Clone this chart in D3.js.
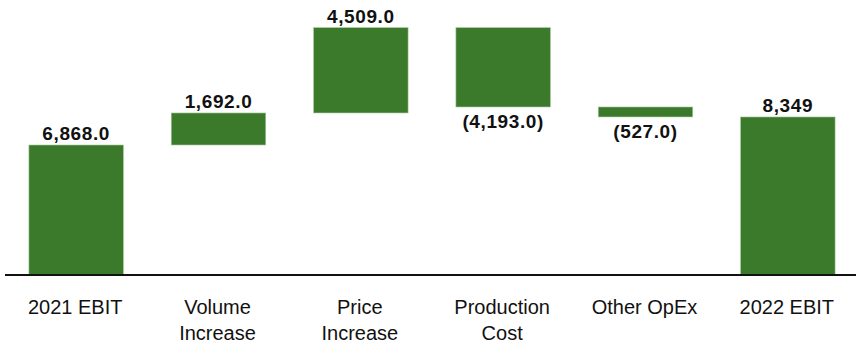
<!DOCTYPE html>
<html>
<head>
<meta charset="utf-8">
<script src="https://cdn.jsdelivr.net/npm/d3@7"></script>
<style>
  body { margin: 0; background: #fff; }
  svg { display: block; font-family: "Liberation Sans", Arial, sans-serif; }
</style>
</head>
<body>
<div id="chart"></div>
<script>
// EBIT bridge 2021 -> 2022
var categories = [["2021 EBIT"], ["Volume", "Increase"], ["Price", "Increase"], ["Production", "Cost"], ["Other OpEx"], ["2022 EBIT"]];
var values = [6868, 1692, 4509, -4193, -527, 8349];
var isTotal = [true, false, false, false, false, true];
var valueLabels = ["6,868.0", "1,692.0", "4,509.0", "(4,193.0)", "(527.0)", "8,349"];

var width = 856,
    height = 342,
    baseY = 275;

var GREEN = "#3c7a2b";

// running totals for the floating bars
var steps = [];
var run = 0;
values.forEach(function(v, i) {
  if (isTotal[i]) {
    steps.push({ i: i, lo: 0, hi: v, v: v });
    run = v;
  } else {
    var start = run;
    run += v;
    steps.push({ i: i, lo: Math.min(start, run), hi: Math.max(start, run), v: v });
  }
});

var x = d3.scaleBand()
    .domain(d3.range(categories.length))
    .range([5, 859])
    .paddingInner(0.336)
    .paddingOuter(0.168);

var y = d3.scaleLinear()
    .domain([0, 14000])
    .range([baseY, 10]);

var svg = d3.select("#chart").append("svg")
    .attr("width", width)
    .attr("height", height);

svg.selectAll("rect.bar")
    .data(steps)
  .enter().append("rect")
    .attr("class", "bar")
    .attr("x", function(d) { return x(d.i); })
    .attr("width", x.bandwidth())
    .attr("y", function(d) { return y(d.hi); })
    .attr("height", function(d) { return y(d.lo) - y(d.hi); })
    .style("fill", GREEN)
    .style("stroke", "#a9c99c")
    .style("stroke-width", 0.6);

// baseline
svg.append("line")
    .attr("x1", 5)
    .attr("x2", width)
    .attr("y1", baseY)
    .attr("y2", baseY)
    .style("stroke", "#111")
    .style("stroke-width", 2);

// value labels: above rising bars, below falling ones
svg.selectAll("text.val")
    .data(steps)
  .enter().append("text")
    .attr("class", "val")
    .attr("x", function(d) { return x(d.i) + x.bandwidth() / 2; })
    .attr("y", function(d) { return d.v < 0 ? y(d.lo) + 21 : y(d.hi) - 5; })
    .attr("text-anchor", "middle")
    .style("font-size", "19px")
    .style("font-weight", "bold")
    .style("letter-spacing", "0.6px")
    .style("fill", "#111")
    .text(function(d) { return valueLabels[d.i]; });

// category labels
var cat = svg.selectAll("text.cat")
    .data(categories)
  .enter().append("text")
    .attr("class", "cat")
    .attr("x", function(d, i) { return x(i) + x.bandwidth() / 2 - 1; })
    .attr("y", 314)
    .attr("text-anchor", "middle")
    .style("font-size", "20px")
    .style("fill", "#111");

cat.selectAll("tspan")
    .data(function(d) { return d; })
  .enter().append("tspan")
    .attr("x", function() { return d3.select(this.parentNode).attr("x"); })
    .attr("dy", function(d, j) { return j === 0 ? 0 : 25.5; })
    .text(function(d) { return d; });
</script>
</body>
</html>
